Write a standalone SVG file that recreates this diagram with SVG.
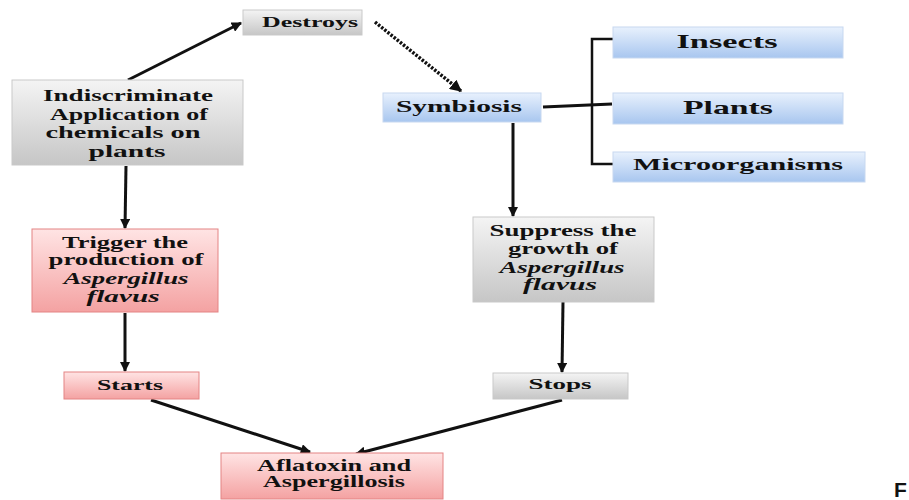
<svg xmlns="http://www.w3.org/2000/svg" width="909" height="500" viewBox="0 0 909 500">
<style>
text{font-family:"Liberation Serif","Times New Roman",serif;font-weight:bold;fill:#111;text-anchor:middle}
.it{font-style:italic}
.gray{fill:url(#gGray);stroke:#c9c9c9;stroke-width:1}
.pink{fill:url(#gPink);stroke:#e48484;stroke-width:1}
.blue{fill:url(#gBlue);stroke:#c7d8f0;stroke-width:1}
.conn{stroke:#111;stroke-width:3;fill:none}
.dot{stroke:#111;stroke-width:3.5;fill:none;stroke-dasharray:2.5 1.5}
</style>
<defs>
<linearGradient id="gGray" x1="0" y1="0" x2="0" y2="1"><stop offset="0" stop-color="#f4f4f4"/><stop offset="1" stop-color="#c6c6c6"/></linearGradient>
<linearGradient id="gPink" x1="0" y1="0" x2="0" y2="1"><stop offset="0" stop-color="#ffe4e4"/><stop offset="1" stop-color="#f4a2a2"/></linearGradient>
<linearGradient id="gBlue" x1="0" y1="0" x2="0" y2="1"><stop offset="0" stop-color="#e8f1fd"/><stop offset="1" stop-color="#a8c6ef"/></linearGradient>
<marker id="ah" viewBox="0 0 10 10" refX="9" refY="5" markerWidth="3.4" markerHeight="3.4" orient="auto" markerUnits="strokeWidth"><path d="M0,0 L10,5 L0,10 z" fill="#111"/></marker>
</defs>
<g id="connectors">
<line class="conn" x1="128" y1="80" x2="241" y2="23" marker-end="url(#ah)"/>
<line class="dot" x1="375" y1="22" x2="461" y2="91" marker-end="url(#ah)"/>
<line class="conn" x1="126" y1="166" x2="125" y2="228" marker-end="url(#ah)"/>
<line class="conn" x1="125" y1="313" x2="125" y2="371" marker-end="url(#ah)"/>
<line class="conn" x1="151" y1="400" x2="310" y2="452" marker-end="url(#ah)"/>
<line class="conn" x1="562" y1="400" x2="356" y2="454" marker-end="url(#ah)"/>
<line class="conn" x1="513" y1="123" x2="513" y2="216" marker-end="url(#ah)"/>
<line class="conn" x1="563" y1="302" x2="562" y2="372" marker-end="url(#ah)"/>
<line class="conn" x1="543" y1="107" x2="612" y2="104"/>
<polyline class="conn" points="613,39 592,39 592,164 613,164" style="stroke-width:2.5"/>
</g>
<g id="destroys"><rect class="gray" x="243" y="10" width="119" height="25"/><text x="310" y="27" font-size="14" textLength="96" lengthAdjust="spacingAndGlyphs">Destroys</text></g>
<g id="indiscriminate"><rect class="gray" x="12" y="80" width="231" height="85"/>
<text font-size="17" x="128" y="101" textLength="170" lengthAdjust="spacingAndGlyphs">Indiscriminate</text>
<text font-size="17" x="129" y="120" textLength="158" lengthAdjust="spacingAndGlyphs">Application of</text>
<text font-size="17" x="123" y="138" textLength="155" lengthAdjust="spacingAndGlyphs">chemicals on</text>
<text font-size="17" x="127" y="157" textLength="77" lengthAdjust="spacingAndGlyphs">plants</text></g>
<g id="symbiosis"><rect class="blue" x="383" y="93" width="158" height="29"/><text font-size="17" x="459" y="112" textLength="126" lengthAdjust="spacingAndGlyphs">Symbiosis</text></g>
<g id="insects"><rect class="blue" x="613" y="27" width="230" height="31"/><text font-size="19" x="727" y="48" textLength="101" lengthAdjust="spacingAndGlyphs">Insects</text></g>
<g id="plants"><rect class="blue" x="613" y="93" width="230" height="31"/><text font-size="19" x="728" y="114" textLength="90" lengthAdjust="spacingAndGlyphs">Plants</text></g>
<g id="microorganisms"><rect class="blue" x="613" y="152" width="252" height="30"/><text font-size="17" x="738" y="170" textLength="210" lengthAdjust="spacingAndGlyphs">Microorganisms</text></g>
<g id="trigger"><rect class="pink" x="32" y="229" width="186" height="83"/>
<text font-size="16" x="125" y="248" textLength="126" lengthAdjust="spacingAndGlyphs">Trigger the</text>
<text font-size="16" x="126" y="265" textLength="155" lengthAdjust="spacingAndGlyphs">production of</text>
<text class="it" font-size="16" x="126" y="284" textLength="125" lengthAdjust="spacingAndGlyphs">Aspergillus</text>
<text class="it" font-size="16" x="123" y="302" textLength="73" lengthAdjust="spacingAndGlyphs">flavus</text></g>
<g id="suppress"><rect class="gray" x="473" y="217" width="181" height="85"/>
<text font-size="16" x="563" y="236" textLength="147" lengthAdjust="spacingAndGlyphs">Suppress the</text>
<text font-size="16" x="563" y="254" textLength="110" lengthAdjust="spacingAndGlyphs">growth of</text>
<text class="it" font-size="16" x="562" y="273" textLength="125" lengthAdjust="spacingAndGlyphs">Aspergillus</text>
<text class="it" font-size="16" x="560" y="290" textLength="74" lengthAdjust="spacingAndGlyphs">flavus</text></g>
<g id="starts"><rect class="pink" x="64" y="372" width="135" height="27"/><text font-size="15" x="130" y="390" textLength="66" lengthAdjust="spacingAndGlyphs">Starts</text></g>
<g id="stops"><rect class="gray" x="493" y="373" width="135" height="26"/><text font-size="15" x="560" y="389" textLength="63" lengthAdjust="spacingAndGlyphs">Stops</text></g>
<g id="aflatoxin"><rect class="pink" x="221" y="453" width="222" height="46"/>
<text font-size="16" x="334" y="471" textLength="154" lengthAdjust="spacingAndGlyphs">Aflatoxin and</text>
<text font-size="16" x="334" y="487" textLength="142" lengthAdjust="spacingAndGlyphs">Aspergillosis</text></g>
<text x="894" y="497" font-size="21" style="font-family:'Liberation Sans',Arial,sans-serif;text-anchor:start">F</text>
</svg>
